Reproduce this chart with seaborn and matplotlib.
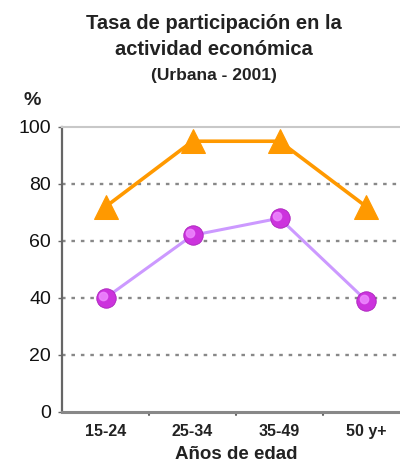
import matplotlib
matplotlib.use("Agg")
import matplotlib.pyplot as plt
import matplotlib.transforms as mtransforms
import seaborn as sns
import pandas as pd

# Participation rate by age group, urban area, 2001
age_groups = ["15-24", "25-34", "35-49", "50 y+"]
series_top = [72, 95, 95, 72]
series_bottom = [40, 62, 68, 39]
y_ticks = [0, 20, 40, 60, 80, 100]

sns.set_theme(style="white")
plt.rcParams["font.family"] = ["Liberation Sans", "DejaVu Sans"]

df = pd.DataFrame({
    "grupo": age_groups * 2,
    "tasa": series_top + series_bottom,
    "serie": ["top"] * len(age_groups) + ["bottom"] * len(age_groups),
})

fig = plt.figure(figsize=(4.0, 4.66), dpi=100)
ax = fig.add_axes([0.155, 0.1159, 0.87, 0.6116])

orange = "#ff9900"
line_purple = "#cc99ff"
ball = "#cc33dd"

top = df[df["serie"] == "top"]
bottom = df[df["serie"] == "bottom"]

sns.lineplot(data=top, x="grupo", y="tasa", ax=ax, color=orange, lw=2.6,
             marker="^", markersize=17, markeredgecolor=orange,
             sort=False, legend=False, zorder=4)
sns.lineplot(data=bottom, x="grupo", y="tasa", ax=ax, color=line_purple, lw=2.2,
             marker="o", markersize=14, markerfacecolor=ball,
             markeredgecolor="#aa22bb", markeredgewidth=0.6,
             sort=False, legend=False, zorder=4)
# soft highlight on the spheres
shift = mtransforms.ScaledTranslation(-1.5 / 72, 1.5 / 72, fig.dpi_scale_trans)
ax.plot(bottom["grupo"], bottom["tasa"], ls="none", marker="o", markersize=6,
        color="#ee88ff", alpha=0.85, transform=ax.transData + shift, zorder=5)

ax.set_xlim(-0.5, 3.5)
ax.set_ylim(0, 100)
ax.set_yticks(y_ticks)
ax.set_yticklabels([str(v) for v in y_ticks], fontsize=14, color="#111111")
ax.set_xticks(range(len(age_groups)))
ax.set_xticklabels(age_groups, fontsize=11.5, fontweight="bold", color="#222222")
ax.tick_params(axis="y", length=3, width=1, color="#666666", pad=5, left=True)
ax.tick_params(axis="x", length=0, pad=9)

# small separators between the category bands
for xb in [0.5, 1.5, 2.5]:
    ax.plot([xb, xb], [0, -1], color="#666666", lw=1.5, clip_on=False)

for yv in y_ticks[1:-1]:
    ax.axhline(yv, color="#888888", lw=1.7, ls=(0, (1.5, 2.5)), zorder=1)

ax.spines["top"].set_color("#c8c8c8")
ax.spines["top"].set_linewidth(1.5)
ax.spines["right"].set_visible(False)
ax.spines["left"].set_color("#666666")
ax.spines["left"].set_linewidth(1.6)
ax.spines["bottom"].set_color("#888888")
ax.spines["bottom"].set_linewidth(2.2)

ax.set_ylabel("")
ax.set_xlabel("Años de edad", fontsize=13.5, fontweight="bold", color="#222222",
              labelpad=5)

fig.text(0.535, 0.922, "Tasa de participación en la\nactividad económica",
         ha="center", va="center", fontsize=14.5, fontweight="bold",
         color="#222222", linespacing=1.45)
fig.text(0.535, 0.839, "(Urbana - 2001)", ha="center", va="center",
         fontsize=12.5, fontweight="bold", color="#222222")
fig.text(0.08, 0.785, "%", ha="center", va="center", fontsize=14,
         fontweight="bold", color="#222222")

fig.savefig("out.png", dpi=100)
